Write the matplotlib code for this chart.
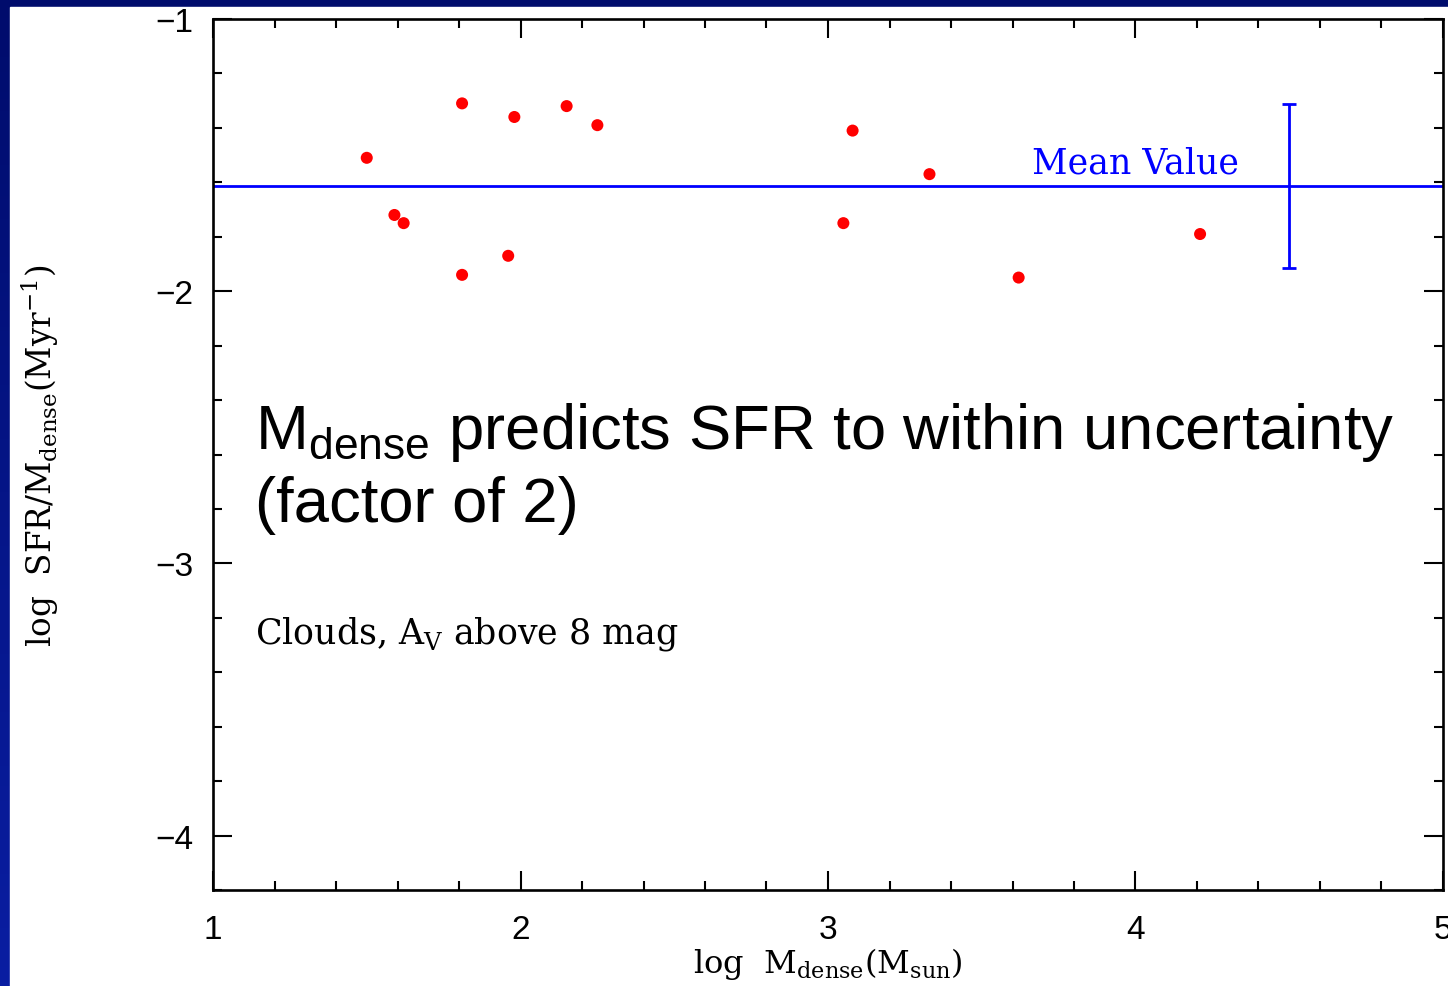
import numpy as np
import matplotlib.pyplot as plt
from matplotlib.colors import LinearSegmentedColormap
from matplotlib.patches import Rectangle
from matplotlib.ticker import MultipleLocator

# log M_dense (M_sun) and log SFR/M_dense (Myr^-1) for each cloud
log_mdense = [1.50, 1.59, 1.62, 1.81, 1.81, 1.98, 1.96, 2.15, 2.25,
              3.08, 3.05, 3.33, 3.62, 4.21]
log_sfr_per_m = [-1.51, -1.72, -1.75, -1.31, -1.94, -1.36, -1.87, -1.32, -1.39,
                 -1.41, -1.75, -1.57, -1.95, -1.79]

mean_value = -1.613
mean_spread = 0.30   # factor of 2
errbar_x = 4.5

plt.rcParams['mathtext.fontset'] = 'custom'
plt.rcParams['mathtext.rm'] = 'DejaVu Serif'
plt.rcParams['mathtext.sf'] = 'Liberation Sans'

fig = plt.figure(figsize=(14.48, 9.87), dpi=100)

# slide background: navy frame on the left and top, white page
bg = fig.add_axes([0, 0, 1, 1], zorder=-10)
grad = np.linspace(0, 1, 256).reshape(-1, 1)
frame_cmap = LinearSegmentedColormap.from_list('frame', ['#000c6c', '#0a1ea2'])
bg.imshow(grad, aspect='auto', extent=[0, 1, 0, 1], origin='upper', cmap=frame_cmap)
bg.add_patch(Rectangle((10 / 1448, 0), 1, 1 - 8 / 987, color='white',
                       transform=bg.transAxes))
bg.set_xlim(0, 1)
bg.set_ylim(0, 1)
bg.axis('off')

ax = fig.add_axes([213 / 1448, 1 - 891 / 987, 1230 / 1448, 871 / 987])
ax.set_facecolor('none')

ax.scatter(log_mdense, log_sfr_per_m, s=75, color='red', edgecolors='none', zorder=3)
ax.axhline(mean_value, color='blue', lw=2.0)
ax.errorbar([errbar_x], [mean_value], yerr=[mean_spread], color='blue',
            lw=2.0, capsize=5, capthick=2.0)

ax.set_xlim(1, 5)
ax.set_ylim(-4.2, -1)
ax.xaxis.set_major_locator(MultipleLocator(1))
ax.xaxis.set_minor_locator(MultipleLocator(0.2))
ax.yaxis.set_major_locator(MultipleLocator(1))
ax.yaxis.set_minor_locator(MultipleLocator(0.2))
ax.tick_params(which='both', direction='in', top=True, right=True,
               width=1.5, labelsize=24, colors='black')
ax.tick_params(which='major', length=13.5)
ax.tick_params(which='minor', length=6.5)
ax.tick_params(axis='x', pad=17)
ax.tick_params(axis='y', pad=14)
for lab in ax.get_xticklabels() + ax.get_yticklabels():
    lab.set_family('Liberation Sans')
for sp in ax.spines.values():
    sp.set_linewidth(1.9)

serif = 'DejaVu Serif'
ax.set_xlabel(r'log  M$_{\rm dense}$(M$_{\rm sun}$)', family=serif,
              fontsize=23, labelpad=0)
ax.set_ylabel(r'log  SFR/M$_{\rm dense}$(Myr$^{-1}$)', family=serif,
              fontsize=23.5, labelpad=68)

ax.text(3.665, mean_value + 0.025, 'Mean Value', color='blue', family=serif,
        fontsize=25, va='bottom', ha='left')

ax.text(1.138, -2.846, r'M$_{\mathsf{dense}}$ predicts SFR to within uncertainty'
        '\n(factor of 2)', family='Liberation Sans', fontsize=45.6,
        va='baseline', ha='left', linespacing=1.26)
ax.text(1.138, -3.29, r'Clouds, A$_{\rm V}$ above 8 mag', family=serif,
        fontsize=25, va='baseline', ha='left')

fig.savefig('out.png', dpi=100)
